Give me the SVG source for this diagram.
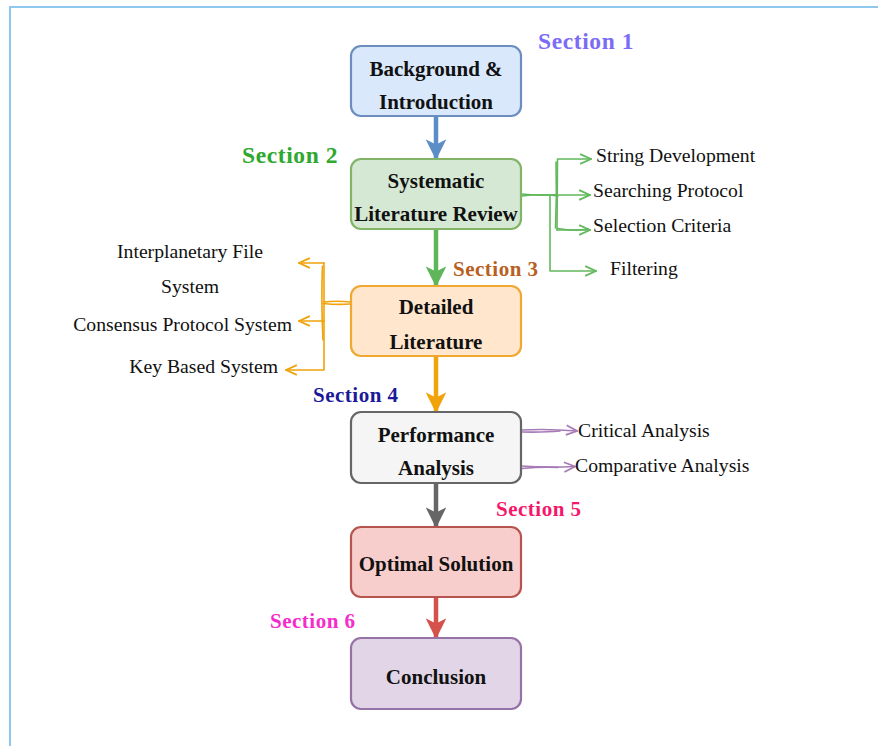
<svg xmlns="http://www.w3.org/2000/svg" width="878" height="746" viewBox="0 0 878 746">
  <style>
    .node rect { stroke-width: 2.2; }
    .node text { font-family: "Liberation Serif", "Times New Roman", serif; font-weight: bold; font-size: 21px; fill: #111; text-anchor: middle; }
    .sec { font-family: "Liberation Serif", "Times New Roman", serif; font-weight: bold; font-size: 21px; letter-spacing: 0.5px; }
    .sec.big { font-size: 23.5px; letter-spacing: 0.6px; }
    .lbl { font-family: "Liberation Serif", "Times New Roman", serif; font-size: 19.7px; fill: #111; }
    .flow { fill: none; stroke-width: 4.5; }
    .sk { fill: none; stroke-width: 1.6; stroke-linecap: round; stroke-linejoin: round; }
  </style>
  <defs>
    <marker id="hBlue" viewBox="0 0 10 10" refX="9" refY="5" markerWidth="4.6" markerHeight="4.6" orient="auto" markerUnits="strokeWidth">
      <path d="M0,0 L10,5 L0,10 L2.5,5 Z" fill="#5b8ec6"/>
    </marker>
    <marker id="hGreen" viewBox="0 0 10 10" refX="9" refY="5" markerWidth="4.6" markerHeight="4.6" orient="auto" markerUnits="strokeWidth">
      <path d="M0,0 L10,5 L0,10 L2.5,5 Z" fill="#5fb55a"/>
    </marker>
    <marker id="hOrange" viewBox="0 0 10 10" refX="9" refY="5" markerWidth="4.6" markerHeight="4.6" orient="auto" markerUnits="strokeWidth">
      <path d="M0,0 L10,5 L0,10 L2.5,5 Z" fill="#f0a30a"/>
    </marker>
    <marker id="hGray" viewBox="0 0 10 10" refX="9" refY="5" markerWidth="4.6" markerHeight="4.6" orient="auto" markerUnits="strokeWidth">
      <path d="M0,0 L10,5 L0,10 L2.5,5 Z" fill="#666666"/>
    </marker>
    <marker id="hRed" viewBox="0 0 10 10" refX="9" refY="5" markerWidth="4.6" markerHeight="4.6" orient="auto" markerUnits="strokeWidth">
      <path d="M0,0 L10,5 L0,10 L2.5,5 Z" fill="#d5514c"/>
    </marker>
    <marker id="oGreen" viewBox="0 0 12 12" refX="11" refY="6" markerWidth="13" markerHeight="13" orient="auto" markerUnits="userSpaceOnUse">
      <path d="M1,1.5 L11,6 L1,10.5" fill="none" stroke="#62b85c" stroke-width="1.6"/>
    </marker>
    <marker id="oOrange" viewBox="0 0 12 12" refX="11" refY="6" markerWidth="13" markerHeight="13" orient="auto" markerUnits="userSpaceOnUse">
      <path d="M1,1.5 L11,6 L1,10.5" fill="none" stroke="#f0a30a" stroke-width="1.6"/>
    </marker>
    <marker id="oPurple" viewBox="0 0 12 12" refX="11" refY="6" markerWidth="13" markerHeight="13" orient="auto" markerUnits="userSpaceOnUse">
      <path d="M1,1.5 L11,6 L1,10.5" fill="none" stroke="#a67bb8" stroke-width="1.6"/>
    </marker>
  </defs>

  <rect width="878" height="746" fill="#ffffff"/>
  <!-- page frame -->
  <path d="M10,760 L10,7 L890,7" fill="none" stroke="#8ec8ef" stroke-width="2"/>

  <!-- connectors -->
  <g id="connectors">
    <path class="flow" d="M436,116 L436,158" stroke="#5b8ec6" marker-end="url(#hBlue)"/>
    <path class="flow" d="M436,229 L436,285" stroke="#5fb55a" marker-end="url(#hGreen)"/>
    <path class="flow" d="M436,356 L436,411" stroke="#f0a30a" marker-end="url(#hOrange)"/>
    <path class="flow" d="M436,483 L436,526" stroke="#666666" marker-end="url(#hGray)"/>
    <path class="flow" d="M436,597 L436,637" stroke="#d5514c" marker-end="url(#hRed)"/>

    <!-- literature review breakdown -->
    <g stroke="#62b85c">
      <path class="sk" d="M521,194 Q540,196 557,194.5"/>
      <path class="sk" d="M522,196 Q541,193.5 558,196" stroke-width="1"/>
      <path class="sk" d="M557,230 L557.5,159 L591,159" marker-end="url(#oGreen)"/>
      <path class="sk" d="M555.5,228 Q557,195 556,162" stroke-width="1"/>
      <path class="sk" d="M557,195 L590,195" marker-end="url(#oGreen)"/>
      <path class="sk" d="M557,230 L590,230" marker-end="url(#oGreen)"/>
      <path class="sk" d="M558,228.5 Q575,231.5 588,229" stroke-width="1"/>
      <path class="sk" d="M550,195 L550,271 L596,271" marker-end="url(#oGreen)"/>
    </g>

    <!-- detailed literature breakdown -->
    <g stroke="#f0a30a">
      <path class="sk" d="M351,302 Q337,300.5 324,302"/>
      <path class="sk" d="M350,304 Q337,305 323,303.5" stroke-width="1"/>
      <path class="sk" d="M324,263 L324,370 L286,370" marker-end="url(#oOrange)"/>
      <path class="sk" d="M322.5,266 Q321,300 323,340" stroke-width="1"/>
      <path class="sk" d="M324,263 L299,263" marker-end="url(#oOrange)"/>
      <path class="sk" d="M324,321 L299,321" marker-end="url(#oOrange)"/>
    </g>

    <!-- performance analysis breakdown -->
    <g stroke="#a67bb8">
      <path class="sk" d="M521,430 Q548,428.5 577,431" marker-end="url(#oPurple)"/>
      <path class="sk" d="M522,432 Q545,432.5 560,431" stroke-width="1"/>
      <path class="sk" d="M521,466 Q546,468 575,466.5" marker-end="url(#oPurple)"/>
      <path class="sk" d="M522,468.5 Q543,466.5 558,467.5" stroke-width="1"/>
    </g>
  </g>

  <!-- nodes -->
  <g id="node-background" class="node">
    <rect x="351" y="46" width="170" height="70" rx="10" fill="#dae8fc" stroke="#6c8ebf"/>
    <text x="436" y="76">Background &amp;</text>
    <text x="436" y="109">Introduction</text>
  </g>
  <g id="node-slr" class="node">
    <rect x="351" y="159" width="170" height="70" rx="10" fill="#d5e8d4" stroke="#82b366"/>
    <text x="436" y="188">Systematic</text>
    <text x="436" y="221">Literature Review</text>
  </g>
  <g id="node-detailed" class="node">
    <rect x="351" y="286" width="170" height="70" rx="10" fill="#ffe6cc" stroke="#f0a830"/>
    <text x="436" y="314">Detailed</text>
    <text x="436" y="349">Literature</text>
  </g>
  <g id="node-performance" class="node">
    <rect x="351" y="412" width="170" height="71" rx="10" fill="#f5f5f5" stroke="#666666"/>
    <text x="436" y="442" fill="#333">Performance</text>
    <text x="436" y="475" fill="#333">Analysis</text>
  </g>
  <g id="node-optimal" class="node">
    <rect x="351" y="527" width="170" height="70" rx="10" fill="#f8cecc" stroke="#b85450"/>
    <text x="436" y="571">Optimal Solution</text>
  </g>
  <g id="node-conclusion" class="node">
    <rect x="351" y="638" width="170" height="71" rx="10" fill="#e1d5e7" stroke="#9673a6"/>
    <text x="436" y="684">Conclusion</text>
  </g>

  <!-- section labels -->
  <g id="sections">
    <text class="sec big" x="538" y="49" fill="#7b6cf6">Section 1</text>
    <text class="sec big" x="242" y="163" fill="#2ea82e">Section 2</text>
    <text class="sec" x="453" y="276" fill="#b8601e">Section 3</text>
    <text class="sec" x="313" y="402" fill="#1a1a9a">Section 4</text>
    <text class="sec" x="496" y="516" fill="#f5186a">Section 5</text>
    <text class="sec" x="270" y="628" fill="#f52ccc">Section 6</text>
  </g>

  <!-- branch labels -->
  <g id="labels">
    <text class="lbl" x="596" y="162">String Development</text>
    <text class="lbl" x="593" y="197">Searching Protocol</text>
    <text class="lbl" x="593" y="232">Selection Criteria</text>
    <text class="lbl" x="610" y="275">Filtering</text>
    <text class="lbl" x="190" y="258" text-anchor="middle">Interplanetary File</text>
    <text class="lbl" x="190" y="293" text-anchor="middle">System</text>
    <text class="lbl" x="292" y="331" text-anchor="end">Consensus Protocol System</text>
    <text class="lbl" x="278" y="373" text-anchor="end">Key Based System</text>
    <text class="lbl" x="578" y="437">Critical Analysis</text>
    <text class="lbl" x="575" y="472">Comparative Analysis</text>
  </g>
</svg>
